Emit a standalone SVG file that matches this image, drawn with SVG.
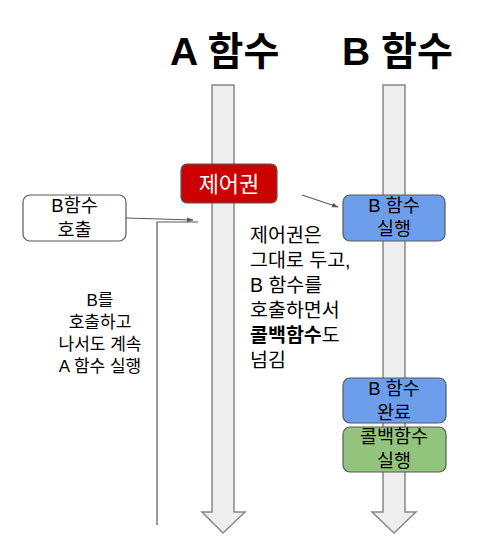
<svg xmlns="http://www.w3.org/2000/svg" width="490" height="560" viewBox="0 0 490 560">
<style>
text{font-family:"Liberation Sans","Noto Sans CJK KR",sans-serif;fill:#000}
.title{font-size:39px;font-weight:bold}
.lbl{font-size:18.5px;text-anchor:middle}
.side{font-size:17px;text-anchor:middle}
.note{font-size:19.5px}
.flow{fill:#eeeeee;stroke:#888888;stroke-width:1.5}
.box{stroke:#595959;stroke-width:1.2}
.conn{fill:none;stroke:#595959;stroke-width:1.2}
</style>
<defs>
<marker id="ah" viewBox="0 0 10 10" refX="9" refY="5" markerWidth="7" markerHeight="7" orient="auto" markerUnits="userSpaceOnUse">
<path d="M0,1.5 L10,5 L0,8.5 z" fill="#595959"/>
</marker>
</defs>
<rect width="490" height="560" fill="#ffffff"/>
<g id="titleA"><text class="title" x="170" y="65">A 함수</text></g>
<g id="titleB"><text class="title" x="342" y="65">B 함수</text></g>
<g id="flowA"><path class="flow" d="M212,85 L234,85 L234,512 L245,512 L223,533 L202,512 L212,512 Z"/></g>
<g id="flowB"><path class="flow" d="M383,85 L405,85 L405,512 L416,512 L394,533 L372,512 L383,512 Z"/></g>
<g id="connectors">
<path class="conn" d="M126,218 L193,220" marker-end="url(#ah)"/>
<path class="conn" d="M198,222 L157,222 L157,525"/>
<path class="conn" d="M302,195 L338,207" marker-end="url(#ah)"/>
</g>
<g id="control"><rect class="box" x="181" y="164" width="96" height="39" rx="6" fill="#cc0000"/><text x="229" y="192" style="font-size:22px;fill:#ffffff;text-anchor:middle">제어권</text></g>
<g id="callB"><rect class="box" x="23" y="195" width="103" height="46" rx="7" fill="#ffffff"/><text class="lbl" x="74.5" y="212">B함수</text><text class="lbl" x="74.5" y="236">호출</text></g>
<g id="runB"><rect class="box" x="343" y="195" width="102" height="46" rx="7" fill="#6d9eeb"/><text class="lbl" x="394" y="212">B 함수</text><text class="lbl" x="394" y="235">실행</text></g>
<g id="doneB"><rect class="box" x="343" y="378" width="103" height="45" rx="7" fill="#6d9eeb"/><text class="lbl" x="394" y="395">B 함수</text><text class="lbl" x="394" y="419">완료</text></g>
<g id="callback"><rect class="box" x="343" y="427" width="103" height="45" rx="7" fill="#93c47d"/><text class="lbl" x="394" y="443">콜백함수</text><text class="lbl" x="394" y="467">실행</text></g>
<g id="noteLeft">
<text class="side" x="100" y="306">B를</text>
<text class="side" x="100" y="328">호출하고</text>
<text class="side" x="100" y="350">나서도 계속</text>
<text class="side" x="100" y="372">A 함수 실행</text>
</g>
<g id="noteRight">
<text class="note" x="250" y="242">제어권은</text>
<text class="note" x="250" y="267">그대로 두고,</text>
<text class="note" x="250" y="292">B 함수를</text>
<text class="note" x="250" y="317">호출하면서</text>
<text class="note" x="250" y="342"><tspan font-weight="bold">콜백함수</tspan>도</text>
<text class="note" x="250" y="367">넘김</text>
</g>
</svg>
